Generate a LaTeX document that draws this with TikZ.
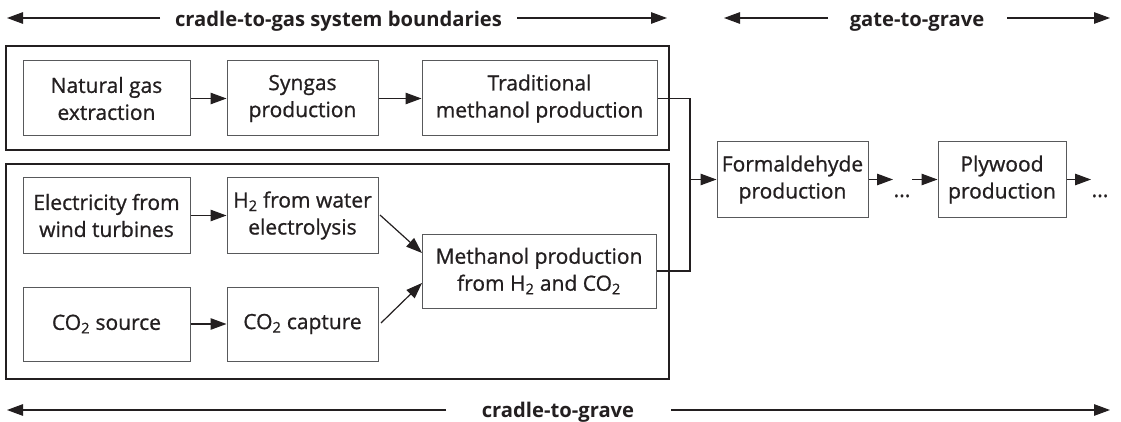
\documentclass[tikz,border=0pt]{standalone}
\usepackage{fontspec}
\setmainfont{Open Sans}[UprightFeatures={FakeBold=0.9}]
\usetikzlibrary{arrows.meta}
\definecolor{ink}{HTML}{231F20}
\definecolor{boxline}{HTML}{58595B}
\begin{document}
\begin{tikzpicture}[x=1pt,y=-1pt,
  font=\fontsize{21}{27}\selectfont,
  proc/.style={draw=boxline, line width=1pt, text=ink, align=center, inner sep=0pt, minimum width=#1, minimum height=75pt},
  frame/.style={draw=ink, line width=2.6pt},
  arr/.style={draw=ink, line width=1.2pt, -{Triangle[length=16pt,width=11.5pt]}},
  link/.style={draw=ink, line width=1.2pt},
  head/.style={text=ink, font=\fontsize{20.2}{22}\selectfont\bfseries, anchor=base, inner sep=0pt},
  dots/.style={text=ink, anchor=base, inner sep=0pt}
]
\useasboundingbox (0,0) rectangle (1121,422);

% system boundary frames
\draw[frame] (6,46) rectangle (669,150);
\draw[frame] (6,164) rectangle (669,379);

% process boxes
\node[proc=167pt] (ng) at (106.5,98.5) {Natural gas\\extraction};
\node[proc=151pt] (sg) at (302.5,98.5) {Syngas\\production};
\node[proc=235pt] (tr) at (539.5,98.5) {Traditional\\methanol production};
\node[proc=167pt] (el) at (106.5,215.5) {Electricity from\\wind turbines};
\node[proc=151pt] (h2) at (302.5,215.5) {H\textsubscript{2} from water\\electrolysis};
\node[proc=167pt, minimum height=74pt] (cs) at (106.5,324) {CO\textsubscript{2} source};
\node[proc=151pt, minimum height=74pt] (cc) at (302.5,324) {CO\textsubscript{2} capture};
\node[proc=234pt, minimum height=74pt] (me) at (539,271) {Methanol production\\from H\textsubscript{2} and CO\textsubscript{2}};
\node[proc=151pt] (fo) at (792.5,179.5) {Formaldehyde\\production};
\node[proc=128pt] (pl) at (1002,179.5) {Plywood\\production};

% dots
\node[dots] (d1) at (902,197) {...};
\node[dots] (d2) at (1100,197) {...};

% connectors
\draw[arr] (ng) -- (sg);
\draw[arr] (sg) -- (tr);
\draw[arr] (el) -- (h2);
\draw[arr] (cs) -- (cc);
\coordinate (h2o) at (380,215);
\coordinate (me1) at (422,253);
\coordinate (cco) at (381,323);
\coordinate (me2) at (422,283);
\draw[arr] (h2o) -- (me1);
\draw[arr] (cco) -- (me2);
\coordinate (j1) at (690,98.5);
\coordinate (jm) at (690,179.5);
\draw[link] (tr.east) -- (j1) |- (me.east);
\draw[arr] (jm) -- (fo.west);
\coordinate (f1) at (893,179.5);
\coordinate (p0) at (912,179.5);
\coordinate (p1) at (1091,179.5);
\draw[arr] (fo.east) -- (f1);
\draw[arr] (p0) -- (pl.west);
\draw[arr] (pl.east) -- (p1);

% boundary headings
\node[head] (h1) at (338.5,26.5) {cradle-to-gas system boundaries};
\node[head] (h2h) at (917,26.5) {gate-to-grave};
\node[head] (h3) at (558,417) {cradle-to-grave};
\coordinate (a1l) at (7,18);   \coordinate (a1a) at (160,18);
\coordinate (a1b) at (517,18); \coordinate (a1r) at (667,18);
\coordinate (a2l) at (724,18); \coordinate (a2a) at (828,18);
\coordinate (a2b) at (1007,18); \coordinate (a2r) at (1110,18);
\coordinate (a3l) at (7,410);  \coordinate (a3a) at (446,410);
\coordinate (a3b) at (671,410); \coordinate (a3r) at (1110,410);
\draw[arr] (a1a) -- (a1l);
\draw[arr] (a1b) -- (a1r);
\draw[arr] (a2a) -- (a2l);
\draw[arr] (a2b) -- (a2r);
\draw[arr] (a3a) -- (a3l);
\draw[arr] (a3b) -- (a3r);
\end{tikzpicture}
\end{document}
